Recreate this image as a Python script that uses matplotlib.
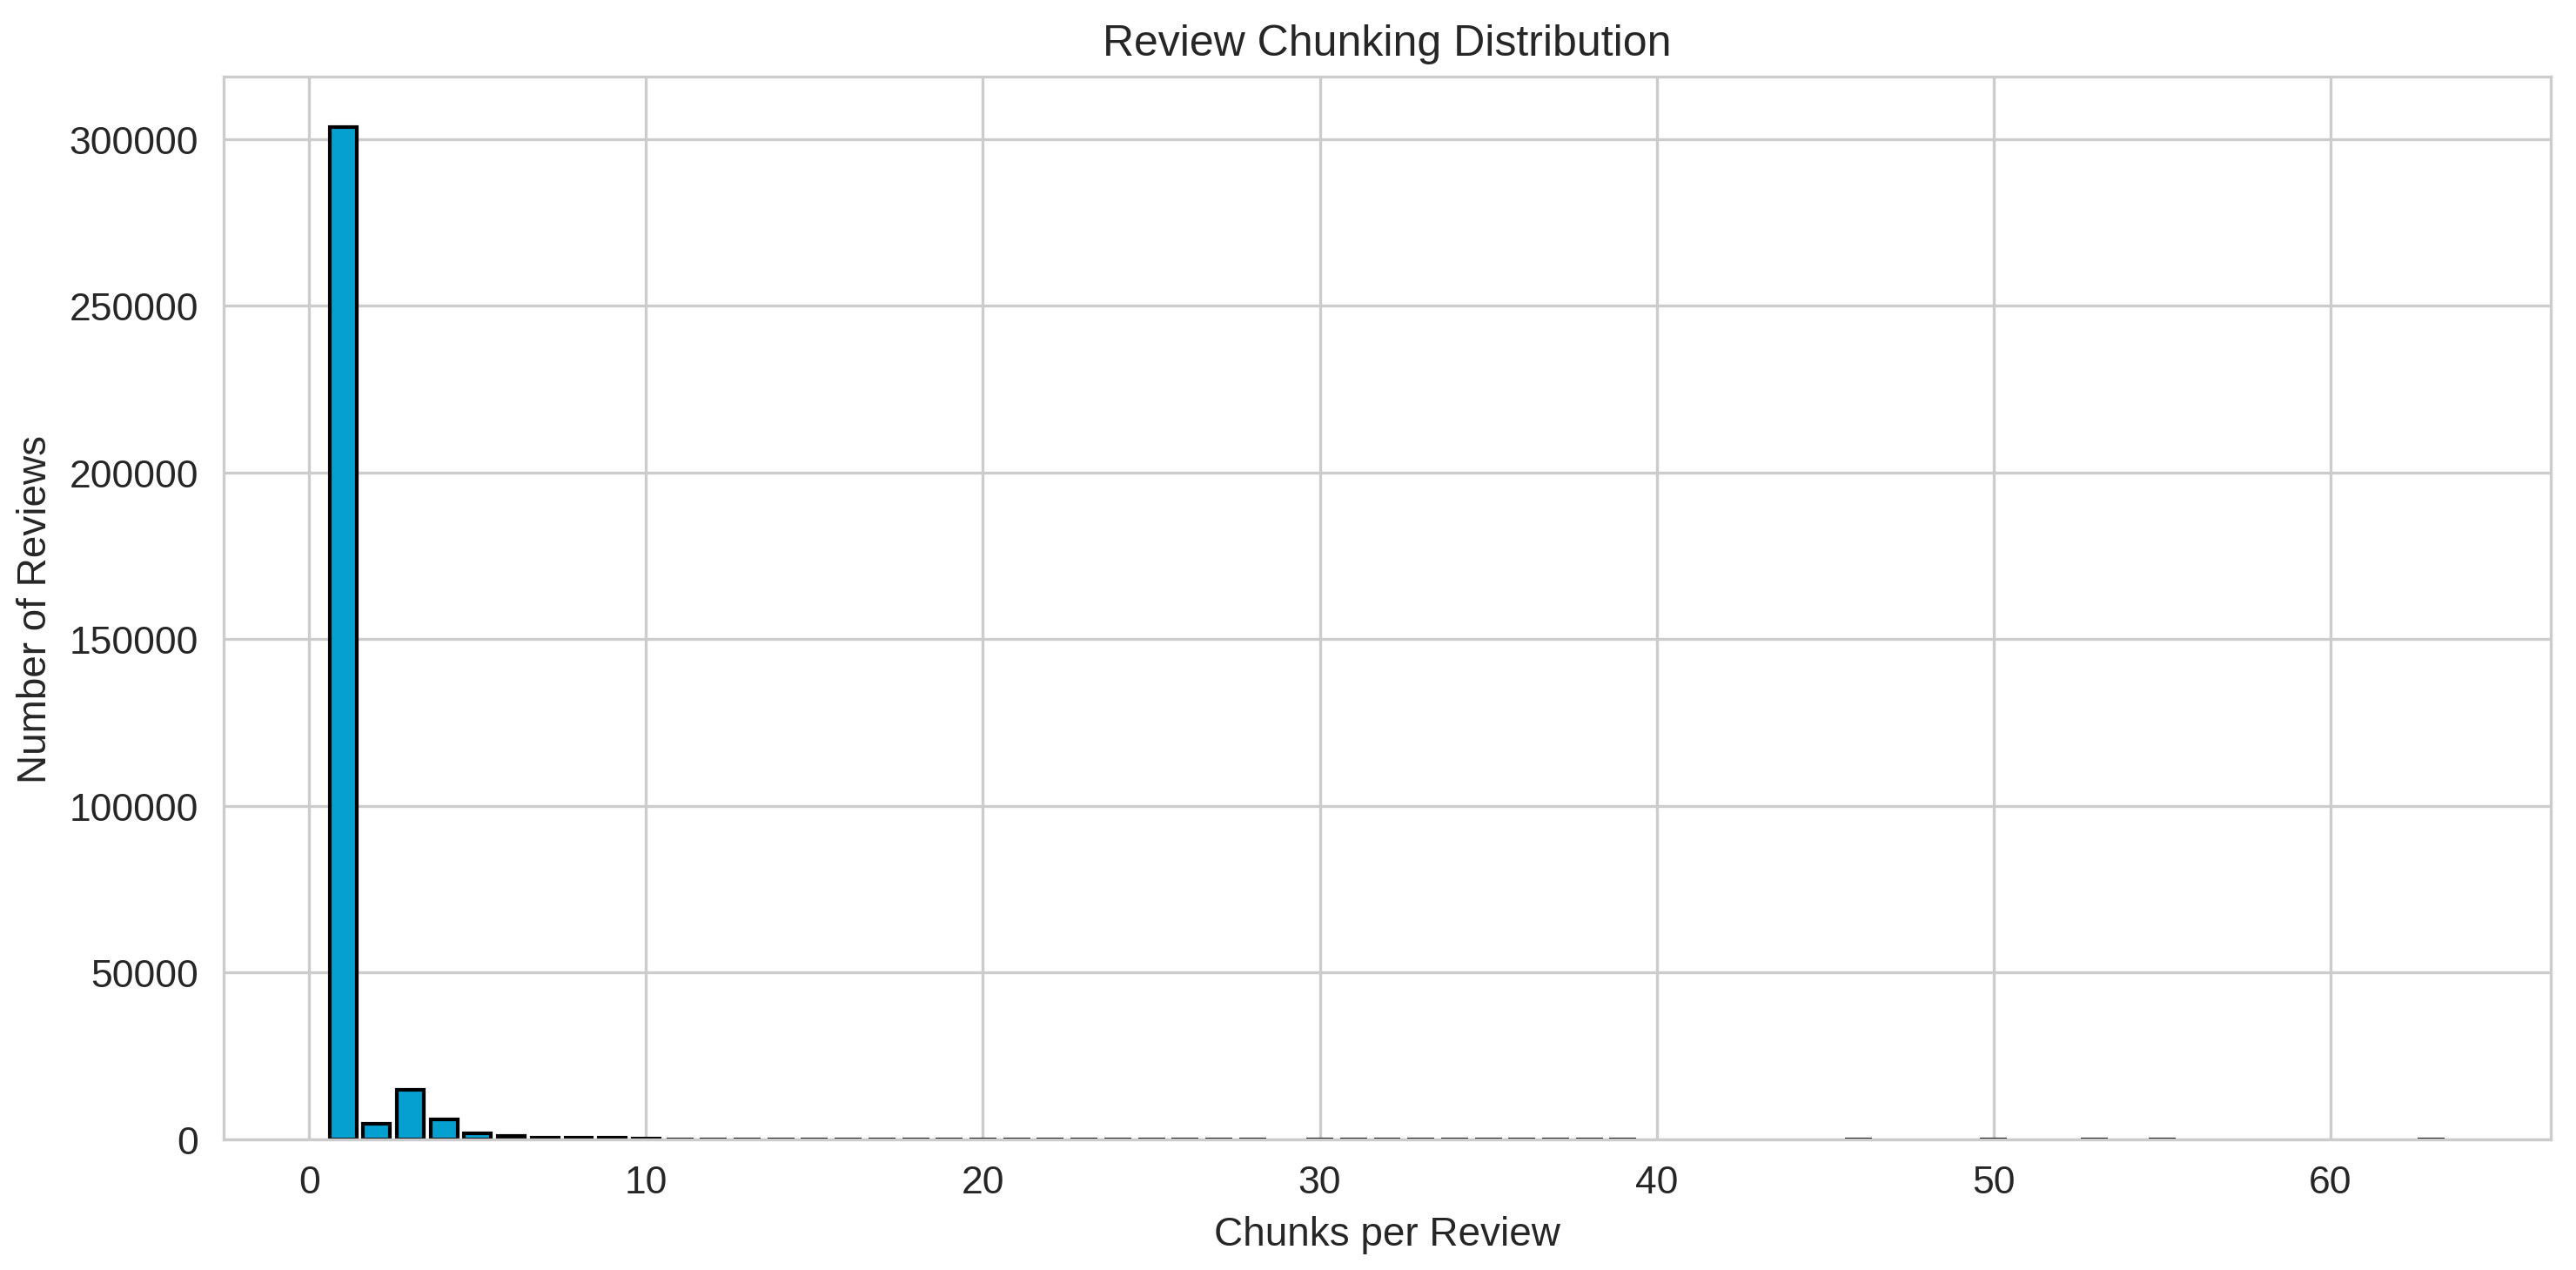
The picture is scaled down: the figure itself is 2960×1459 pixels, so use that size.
import numpy as np
import matplotlib
matplotlib.use("Agg")
import matplotlib.pyplot as plt
import seaborn as sns

# chunks per review -> number of reviews
chunks = [1, 2, 3, 4, 5, 6, 7, 8, 9, 10,
          11, 12, 13, 14, 15, 16, 17, 18, 19, 20,
          21, 22, 23, 24, 25, 26, 27, 28, 30, 31,
          32, 33, 34, 35, 36, 37, 38, 39, 46, 50,
          53, 55, 63]
counts = [303500, 4650, 15000, 5900, 1950, 1100, 650, 540, 400, 320,
          110, 90, 75, 60, 50, 42, 36, 30, 26, 22,
          19, 16, 14, 12, 10, 9, 8, 7, 5, 5,
          4, 4, 3, 3, 2, 2, 2, 2, 1, 1,
          1, 1, 1]

sns.set_style("whitegrid")
plt.rcParams["font.family"] = ["Liberation Sans", "DejaVu Sans"]

fig = plt.figure(figsize=(2961 / 300, 1460 / 300), dpi=300)
ax = fig.add_axes([257 / 2961, 1 - 1310 / 1460, (2931 - 257) / 2961, (1310 - 89) / 1460])

ax.bar(chunks, counts, width=0.8, color="#05a0d0", edgecolor="black", linewidth=1.0)

ax.set_title("Review Chunking Distribution", fontsize=12, color="#262626")
ax.set_xlabel("Chunks per Review", fontsize=11, color="#262626")
ax.set_ylabel("Number of Reviews", fontsize=11, color="#262626")
ax.tick_params(labelsize=10.7, colors="#262626")

fig.savefig("out.png", dpi=300)
